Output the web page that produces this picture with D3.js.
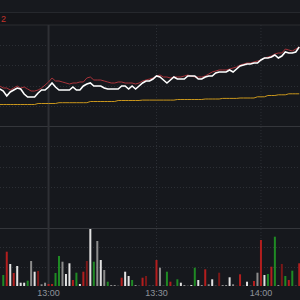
<!DOCTYPE html>
<html><head><meta charset="utf-8">
<script src="https://cdn.jsdelivr.net/npm/d3@7/dist/d3.min.js"></script>
<style>html,body{margin:0;padding:0;background:#16181d;overflow:hidden}svg{display:block}</style>
</head><body>
<svg id="c" width="300" height="300"></svg>
<script>
// ---- data ----
const timeLabels = ["13:00", "13:30", "14:00"];
const timeTickIdx = [14, 45, 75];
const priceLine = [10.37,10.35,10.30,10.34,10.36,10.38,10.37,10.32,10.29,10.29,
10.29,10.33,10.36,10.36,10.39,10.43,10.39,10.36,10.36,10.36,
10.36,10.39,10.36,10.36,10.40,10.42,10.43,10.40,10.40,10.40,
10.38,10.37,10.37,10.37,10.37,10.40,10.40,10.37,10.40,10.37,
10.40,10.43,10.45,10.45,10.47,10.50,10.49,10.46,10.43,10.46,
10.49,10.47,10.47,10.47,10.50,10.50,10.50,10.47,10.47,10.49,
10.50,10.50,10.53,10.54,10.54,10.54,10.56,10.54,10.57,10.60,
10.61,10.62,10.62,10.63,10.63,10.66,10.68,10.68,10.69,10.71,
10.68,10.70,10.74,10.73,10.73,10.74,10.79];
const refLine = [10.40,10.38,10.38,10.36,10.38,10.40,10.38,10.39,10.37,10.35,
10.35,10.36,10.38,10.41,10.44,10.48,10.45,10.45,10.44,10.43,
10.42,10.43,10.43,10.44,10.44,10.48,10.49,10.46,10.46,10.46,
10.45,10.44,10.43,10.43,10.44,10.44,10.43,10.43,10.43,10.42,
10.43,10.45,10.46,10.47,10.48,10.50,10.51,10.49,10.49,10.48,
10.49,10.49,10.49,10.50,10.51,10.50,10.49,10.49,10.49,10.50,
10.52,10.54,10.55,10.56,10.56,10.56,10.57,10.58,10.59,10.61,
10.62,10.63,10.63,10.64,10.65,10.66,10.68,10.69,10.70,10.72,
10.73,10.73,10.77,10.76,10.75,10.77,10.79];
const avgLine = [10.215,10.215,10.215,10.215,10.215,10.215,10.215,10.215,10.215,10.215,10.215,
10.225,10.225,10.225,10.225,10.225,10.225,
10.233,10.233,10.233,10.233,10.233,10.233,10.233,10.233,10.233,
10.245,10.245,10.245,10.245,10.245,10.245,10.245,10.245,
10.255,10.255,10.255,10.255,10.255,10.255,10.255,
10.259,10.259,10.259,10.259,10.259,10.259,10.259,10.259,10.259,10.259,
10.265,10.265,10.265,10.265,10.265,10.265,10.265,10.265,
10.270,10.270,10.270,10.270,10.270,
10.276,10.276,10.276,10.276,10.276,
10.280,10.280,10.280,10.280,10.280,
10.292,10.292,10.292,
10.305,10.305,10.305,
10.312,10.312,10.312,
10.322,10.322,10.322,10.322];
const volumes = [0,1100,3430,2200,1300,2000,330,330,530,2500,1430,
1500,170,330,200,200,1300,3000,2430,1200,2270,
600,1330,200,1430,2500,5700,2430,4500,2600,1600,
430,100,100,30,830,1430,1000,600,100,30,
830,1000,30,30,2600,1830,30,1430,430,30,
670,330,100,30,100,1830,600,100,1670,170,
670,30,1330,100,100,870,170,30,1170,30,
430,30,500,1330,4600,1100,1200,1930,4930,100,
2200,1000,600,1530,30,2270];
const volType = "s" +
"grwrwwwgsw" + "Rssrrggsww" +
"rgwrRwgsws" + "gsssrwwgss" +
"rRssrssgrs" + "gwsswgwsrs" +
"wsRsswsrrs" + "wsrsrwgrgs" +
"Rgrgsr";
const labelText = "2";

// ---- scales ----
const svg = d3.select("#c");
const N = priceLine.length;
const x = d3.scaleLinear().domain([0, N - 1]).range([-0.2, 299.25]);
const yP = d3.scaleLinear().domain([10.00, 11.01]).range([126, 25]);
const yM = d3.scaleLinear().domain([0, 5]).range([228, 126]);
const yV = d3.scaleLinear().domain([0, 5800]).range([286, 228]);

const gridCol = "#2c2f35", sepCol = "#34363b";

// top bands
svg.append("rect").attr("x",0).attr("y",0).attr("width",300).attr("height",12).attr("fill","#17191e");
svg.append("rect").attr("x",0).attr("y",12).attr("width",300).attr("height",13).attr("fill","#141519");
svg.append("line").attr("x1",0).attr("x2",300).attr("y1",12.5).attr("y2",12.5).attr("stroke","#26282d");
svg.append("line").attr("x1",0).attr("x2",300).attr("y1",25).attr("y2",25).attr("stroke","#2a2c31");
svg.append("text").attr("x",1).attr("y",22).attr("fill","#c3332c")
  .style("font","9px 'Liberation Sans', Arial, sans-serif").text(labelText);

// horizontal dotted grids
const hg = svg.append("g").attr("stroke", gridCol).attr("stroke-dasharray","1,2");
[1,2,3,4].forEach(k => {
  const v = 10 + k * 1.01 / 5;
  hg.append("line").attr("x1",0).attr("x2",300).attr("y1",Math.round(yP(v))+0.5).attr("y2",Math.round(yP(v))+0.5);
  hg.append("line").attr("x1",0).attr("x2",300).attr("y1",Math.round(yM(k))+0.5).attr("y2",Math.round(yM(k))+0.5);
});
[1,2].forEach(k => {
  const v = k * 5800 / 3;
  hg.append("line").attr("x1",0).attr("x2",300).attr("y1",Math.round(yV(v))+0.5).attr("y2",Math.round(yV(v))+0.5);
});
// separators
[yP(10.00), yV(5800)].forEach(yy => {
  svg.append("line").attr("x1",0).attr("x2",300).attr("y1",yy+0.5).attr("y2",yy+0.5).attr("stroke",sepCol).attr("stroke-width",1.2);
});
// vertical lines
timeTickIdx.forEach((ti, k) => {
  const l = svg.append("line").attr("x1", x(ti)).attr("x2", x(ti)).attr("y1", 25).attr("y2", 286);
  if (k === 0) l.attr("stroke", "#2e3035").attr("stroke-width", 2);
  else l.attr("stroke", gridCol).attr("stroke-dasharray","1,2");
});

// volume bars
const volColor = {r:"#b31e1e", R:"#7a1818", g:"#1f8a24", w:"#e2e2e2", s:"#8c8c8c"};
svg.append("g").selectAll("rect").data(volumes).join("rect")
  .attr("x", (d,i) => x(i) - 1)
  .attr("width", 2)
  .attr("y", d => yV(d))
  .attr("height", d => yV(0) - yV(d))
  .attr("fill", (d,i) => volColor[volType[i]]);

// price lines
const line = yS => d3.line().x((d,i) => x(i)).y(d => yS(d));
svg.append("path").datum(avgLine).attr("d", line(yP)).attr("fill","none").attr("stroke","#c9961c").attr("stroke-width",1);
svg.append("path").datum(refLine).attr("d", line(yP)).attr("fill","none").attr("stroke","#a8333a").attr("stroke-width",1);
svg.append("path").datum(priceLine).attr("d", line(yP)).attr("fill","none").attr("stroke","#ffffff").attr("stroke-width",1.6).attr("stroke-linejoin","miter");

// time labels
svg.append("g").selectAll("text").data(timeTickIdx).join("text")
  .attr("x", d => x(d)).attr("y", 295.5).attr("text-anchor","middle")
  .attr("fill","#8e939b").style("font","9px 'Liberation Sans', Arial, sans-serif")
  .text((d,i) => timeLabels[i]);
</script>
</body></html>
